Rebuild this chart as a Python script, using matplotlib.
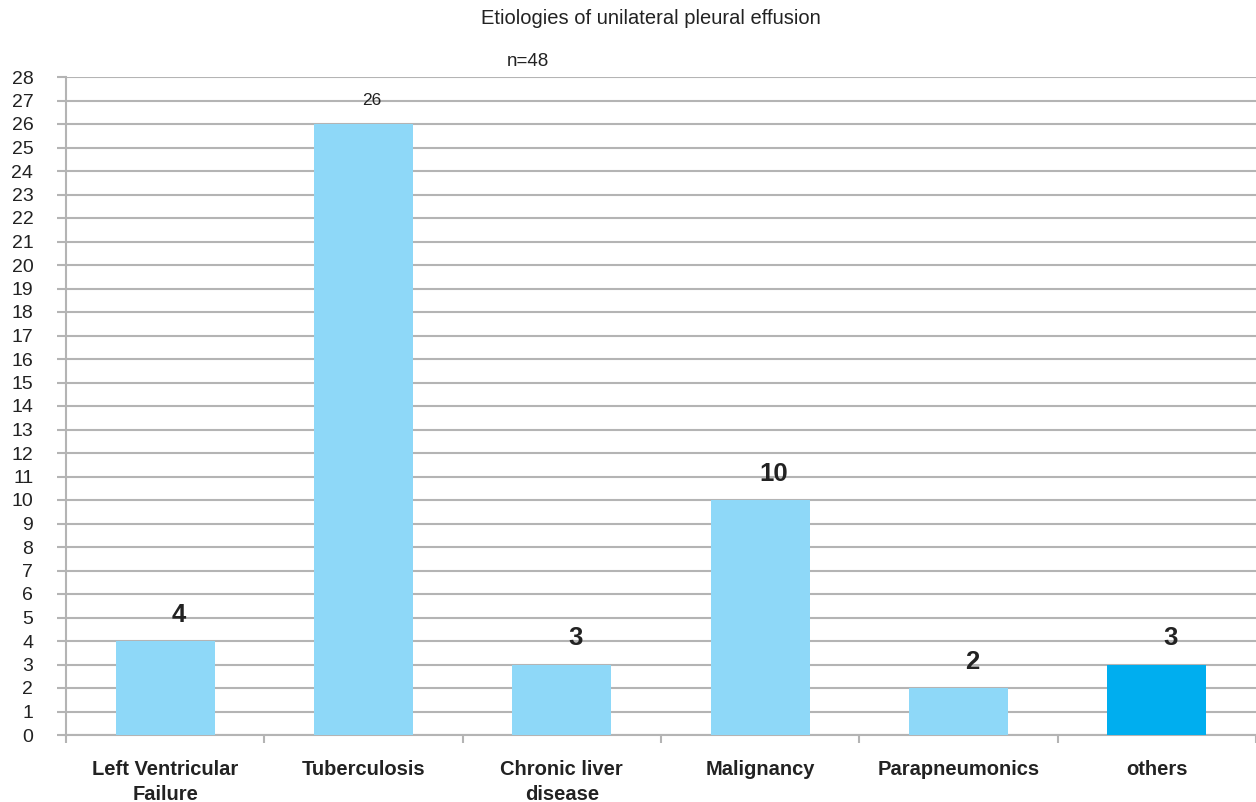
import matplotlib
matplotlib.use("Agg")
import matplotlib.pyplot as plt
import numpy as np

plt.rcParams["font.family"] = ["Liberation Sans", "DejaVu Sans"]

categories = ["Left Ventricular\nFailure", "Tuberculosis", "Chronic liver\ndisease",
              "Malignancy", "Parapneumonics", "others"]
counts = [4, 26, 3, 10, 2, 3]
bar_colors = ["#8ED8F8", "#8ED8F8", "#8ED8F8", "#8ED8F8", "#8ED8F8", "#00AEEF"]
label_bold = [True, False, True, True, True, True]

grid_gray = "#B4B4B4"
text_color = "#222222"

fig = plt.figure(figsize=(12.56, 8.02), dpi=100)
ax = fig.add_axes([66 / 1256, 1 - 735 / 802, 1 - 66 / 1256, (735 - 77) / 802])

x = np.arange(len(categories))
ax.bar(x, counts, width=0.5, color=bar_colors, zorder=3)

ax.set_xlim(-0.5, len(categories) - 0.5)
ax.set_ylim(0, 28)
ax.set_yticks(range(0, 29))
ax.yaxis.grid(True, color=grid_gray, linewidth=1.5, zorder=0)
ax.tick_params(axis="y", length=6.5, width=1.5, color=grid_gray, pad=17,
               labelsize=14, labelcolor=text_color)

ax.set_xticks(x)
ax.set_xticklabels(categories, fontweight="bold", fontsize=14.5, color=text_color,
                   linespacing=1.4)
ax.tick_params(axis="x", length=0, pad=18)
ax.set_xticks(np.arange(-0.5, len(categories)), minor=True)
ax.tick_params(axis="x", which="minor", length=6, width=1.5, color=grid_gray)

for side in ["top", "right"]:
    ax.spines[side].set_visible(False)
for side in ["left", "bottom"]:
    ax.spines[side].set_color(grid_gray)
    ax.spines[side].set_linewidth(1.5)

# value labels sit a little right of the bar centre, as in the original
for xi, v, bold in zip(x, counts, label_bold):
    if bold:
        ax.annotate(str(v), (xi, v), xytext=(10, 19), textcoords="offset points",
                    ha="center", va="center", fontsize=18.5, fontweight="bold",
                    color=text_color, zorder=4)
    else:
        ax.annotate(str(v), (xi, v), xytext=(6, 17), textcoords="offset points",
                    ha="center", va="center", fontsize=12.5, color=text_color, zorder=4)

fig.text(651 / 1256, 1 - 19 / 802, "Etiologies of unilateral pleural effusion",
         ha="center", va="center", fontsize=14.5, color=text_color)
fig.text(528 / 1256, 1 - 62 / 802, "n=48", ha="center", va="center",
         fontsize=13.5, color=text_color)

fig.savefig("out.png", dpi=100)
